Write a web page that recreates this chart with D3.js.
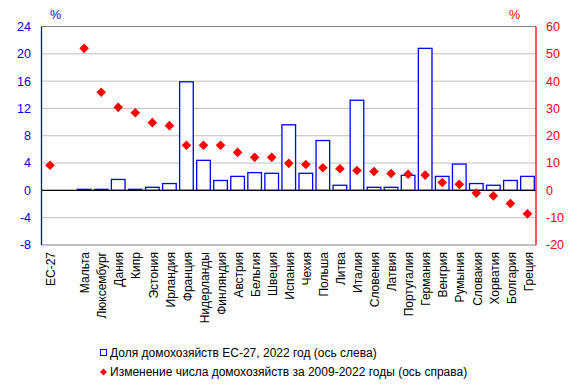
<!DOCTYPE html>
<html>
<head>
<meta charset="utf-8">
<script src="https://cdn.jsdelivr.net/npm/d3@7"></script>
<style>
  body { margin: 0; background: #fff; }
  svg { font-family: Arial, "Liberation Sans", sans-serif; }
</style>
</head>
<body>
<svg id="svgcanvas" width="581" height="389"></svg>
<script>
// categories (empty slot after EC-27 is a gap in the original)
var categories = ["ЕС-27", "", "Мальта", "Люксембург", "Дания", "Кипр", "Эстония", "Ирландия",
  "Франция", "Нидерланды", "Финляндия", "Австрия", "Бельгия", "Швеция", "Испания", "Чехия",
  "Польша", "Литва", "Италия", "Словения", "Латвия", "Португалия", "Германия", "Венгрия",
  "Румыния", "Словакия", "Хорватия", "Болгария", "Греция"];

// share of EU-27 households, 2022 (left axis); null = no bar
var shareValues = [null, null, 0.15, 0.15, 1.6, 0.15, 0.45, 1.0,
  15.9, 4.4, 1.45, 2.05, 2.6, 2.5, 9.6, 2.5,
  7.3, 0.75, 13.2, 0.45, 0.45, 2.2, 20.8, 2.05,
  3.85, 1.0, 0.75, 1.45, 2.05];

// change in number of households 2009-2022 (right axis)
var changeValues = [9.2, null, 52, 35.9, 30.4, 28.4, 24.8, 23.7,
  16.5, 16.5, 16.5, 13.9, 12.1, 12.1, 9.9, 9.5,
  8.3, 7.9, 7.3, 6.9, 6.2, 5.9, 5.6, 2.9,
  2.2, -1.0, -2.0, -4.8, -8.6];

var leftTicks = [-8, -4, 0, 4, 8, 12, 16, 20, 24];
var rightTicks = [-20, -10, 0, 10, 20, 30, 40, 50, 60];

var legendLabels = ["Доля домохозяйств ЕС-27, 2022 год (ось слева)",
  "Изменение числа домохозяйств за 2009-2022 годы (ось справа)"];

var svg = d3.select("#svgcanvas");
var plotLeft = 41.5, plotRight = 536, plotTop = 26.5, plotBottom = 245;

var x = d3.scaleBand()
  .domain(d3.range(categories.length))
  .range([plotLeft, plotRight])
  .paddingInner(0.2)
  .paddingOuter(0.1);

var yL = d3.scaleLinear().domain([-8, 24]).range([plotBottom, plotTop]);
var yR = d3.scaleLinear().domain([-20, 60]).range([plotBottom, plotTop]);

// grid lines
svg.append('g')
  .selectAll('line')
  .data(leftTicks.filter(function(d) { return d !== 0 && d !== 24 && d !== -8; }))
  .enter().append('line')
  .attr('x1', plotLeft).attr('x2', plotRight)
  .attr('y1', function(d) { return yL(d); })
  .attr('y2', function(d) { return yL(d); })
  .attr('stroke', '#c0c0c0')
  .attr('stroke-width', 1);

// frame top / bottom
svg.append('line').attr('x1', plotLeft).attr('x2', plotRight)
  .attr('y1', yL(24)).attr('y2', yL(24))
  .attr('stroke', '#808080').attr('stroke-width', 1);
svg.append('line').attr('x1', plotLeft).attr('x2', plotRight)
  .attr('y1', yL(-8)).attr('y2', yL(-8))
  .attr('stroke', '#808080').attr('stroke-width', 1);

// bars
svg.append('g')
  .selectAll('rect')
  .data(shareValues.map(function(v, i) { return {i: i, v: v}; })
    .filter(function(d) { return d.v !== null; }))
  .enter().append('rect')
  .attr('x', function(d) { return x(d.i); })
  .attr('y', function(d) { return yL(d.v); })
  .attr('width', x.bandwidth())
  .attr('height', function(d) { return yL(0) - yL(d.v); })
  .attr('fill', '#fff')
  .attr('stroke', '#0000ff')
  .attr('stroke-width', 1.3);

// zero line
svg.append('line').attr('x1', plotLeft).attr('x2', plotRight)
  .attr('y1', yL(0)).attr('y2', yL(0))
  .attr('stroke', '#000').attr('stroke-width', 1.3);

// left axis
svg.append('line').attr('x1', plotLeft).attr('x2', plotLeft)
  .attr('y1', plotTop).attr('y2', plotBottom)
  .attr('stroke', '#0000ff').attr('stroke-width', 1.3);
svg.append('g')
  .selectAll('text')
  .data(leftTicks)
  .enter().append('text')
  .attr('x', 31)
  .attr('y', function(d) { return yL(d); })
  .attr('dy', '0.35em')
  .attr('text-anchor', 'end')
  .attr('font-size', 12.5)
  .attr('fill', '#0000ff')
  .text(function(d) { return d; });

// right axis
svg.append('line').attr('x1', plotRight).attr('x2', plotRight)
  .attr('y1', plotTop).attr('y2', plotBottom)
  .attr('stroke', '#ff0000').attr('stroke-width', 1.3);
svg.append('g')
  .selectAll('text')
  .data(rightTicks)
  .enter().append('text')
  .attr('x', 546)
  .attr('y', function(d) { return yR(d); })
  .attr('dy', '0.35em')
  .attr('text-anchor', 'start')
  .attr('font-size', 12.5)
  .attr('fill', '#ff0000')
  .text(function(d) { return d; });

// unit labels
svg.append('text').attr('x', 50).attr('y', 19).attr('font-size', 12.5)
  .attr('fill', '#0000ff').text('%');
svg.append('text').attr('x', 509).attr('y', 19).attr('font-size', 12.5)
  .attr('fill', '#ff0000').text('%');

// diamonds
function diamond(cx, cy, r) {
  return 'M' + cx + ',' + (cy - r) + 'L' + (cx + r) + ',' + cy +
    'L' + cx + ',' + (cy + r) + 'L' + (cx - r) + ',' + cy + 'Z';
}
svg.append('g')
  .selectAll('path')
  .data(changeValues.map(function(v, i) { return {i: i, v: v}; })
    .filter(function(d) { return d.v !== null; }))
  .enter().append('path')
  .attr('d', function(d) {
    return diamond(x(d.i) + x.bandwidth() / 2, yR(d.v), 4.8);
  })
  .attr('fill', '#ff0000');

// category labels
svg.append('g')
  .selectAll('text')
  .data(categories.map(function(c, i) { return {i: i, c: c}; }))
  .enter().append('text')
  .attr('transform', function(d) {
    return 'translate(' + (x(d.i) + x.bandwidth() / 2 + 1) + ',252) rotate(-90)';
  })
  .attr('dy', '0.35em')
  .attr('text-anchor', 'end')
  .attr('font-size', 12)
  .attr('fill', '#000')
  .text(function(d) { return d.c; });

// legend
var legend = svg.append('g');
legend.append('rect').attr('x', 100.5).attr('y', 349.5).attr('width', 6).attr('height', 6)
  .attr('fill', '#fff').attr('stroke', '#0000ff').attr('stroke-width', 1);
legend.append('path').attr('d', diamond(103.5, 372, 3.5)).attr('fill', '#ff0000');
legend.selectAll('text')
  .data(legendLabels)
  .enter().append('text')
  .attr('x', 110)
  .attr('y', function(d, i) { return 353 + i * 19; })
  .attr('dy', '0.35em')
  .attr('font-size', 12)
  .attr('fill', '#000')
  .text(function(d) { return d; });
</script>
</body>
</html>
